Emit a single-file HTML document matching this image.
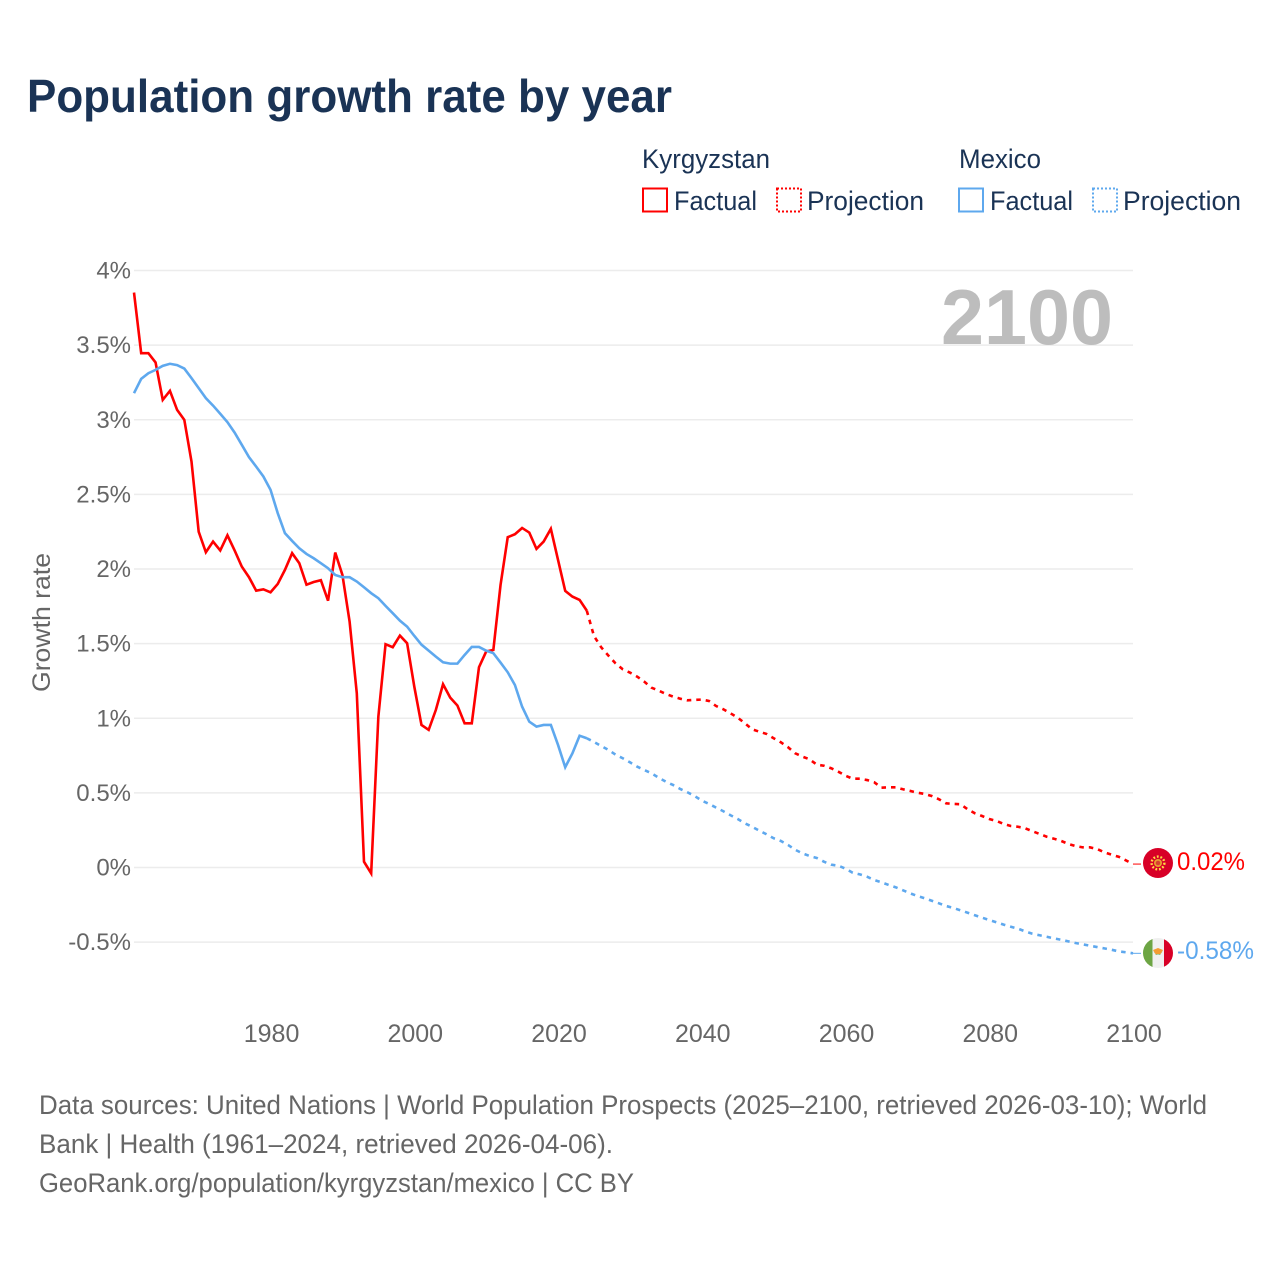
<!DOCTYPE html>
<html lang="en">
<head>
<meta charset="utf-8">
<title>Population growth rate by year</title>
<style>
html,body{margin:0;padding:0;background:#fff;}
svg{display:block;font-family:"Liberation Sans",sans-serif;}
</style>
</head>
<body>
<svg id="chart" xmlns="http://www.w3.org/2000/svg" width="1280" height="1280" viewBox="0 0 1280 1280">
  <rect x="0" y="0" width="1280" height="1280" fill="#fff"/>
  <text x="27" y="112" font-size="46" font-weight="700" fill="#1a3355" textLength="645" lengthAdjust="spacingAndGlyphs">Population growth rate by year</text>

  <g font-size="27" fill="#1a3355">
    <text x="642" y="168" textLength="128" lengthAdjust="spacingAndGlyphs">Kyrgyzstan</text>
    <text x="959" y="168" textLength="82" lengthAdjust="spacingAndGlyphs">Mexico</text>
    <rect x="643" y="188.5" width="24" height="23" fill="none" stroke="#ff0000" stroke-width="2"/>
    <text x="674" y="210" textLength="83" lengthAdjust="spacingAndGlyphs">Factual</text>
    <rect x="777" y="188.5" width="24" height="23" fill="none" stroke="#ff0000" stroke-width="2" stroke-dasharray="2 2"/>
    <text x="807" y="210" textLength="117" lengthAdjust="spacingAndGlyphs">Projection</text>
    <rect x="959" y="188.5" width="24" height="23" fill="none" stroke="#5ea8ee" stroke-width="2"/>
    <text x="990" y="210" textLength="83" lengthAdjust="spacingAndGlyphs">Factual</text>
    <rect x="1093" y="188.5" width="24" height="23" fill="none" stroke="#5ea8ee" stroke-width="2" stroke-dasharray="2 2"/>
    <text x="1123" y="210" textLength="118" lengthAdjust="spacingAndGlyphs">Projection</text>
  </g>

  <g id="grid"></g>
  <g id="yticks" font-size="24" fill="#666" text-anchor="end"></g>
  <g id="xticks" font-size="25" fill="#666" text-anchor="middle"></g>

  <text transform="translate(50,622.5) rotate(-90)" font-size="25" fill="#666" text-anchor="middle" textLength="139" lengthAdjust="spacingAndGlyphs">Growth rate</text>
  <text x="941" y="344" font-size="78" font-weight="700" fill="#bdbdbd" textLength="172" lengthAdjust="spacingAndGlyphs">2100</text>

  <g id="series"></g>

  <g>
    <circle cx="1158" cy="863" r="15" fill="#d80027"/>
    <circle cx="1158" cy="863" r="6.4" fill="none" stroke="#ffda44" stroke-width="2.4" stroke-dasharray="1.8 1.8"/>
    <circle cx="1158" cy="863" r="4" fill="#e8a030"/>
    <circle cx="1158" cy="863" r="2.3" fill="#d84030"/>
  </g>
  <g>
    <clipPath id="mexico-clip"><circle cx="1158" cy="953" r="15"/></clipPath>
    <g clip-path="url(#mexico-clip)">
      <rect x="1143" y="938" width="30" height="30" fill="#f0f0f0"/>
      <rect x="1143" y="938" width="9.5" height="30" fill="#6da544"/>
      <rect x="1164" y="938" width="9.5" height="30" fill="#d80027"/>
    </g>
    <path d="M1153.5 951 A4.6 4.6 0 0 0 1162.5 951 L1160 955 L1156 955 Z" fill="#6da544"/>
    <path d="M1153 950 L1158 948 L1163 950 L1160.5 954 L1155.5 954 Z" fill="#f39c32"/>
  </g>

  <text x="1177" y="870" font-size="25" fill="#ff0000" textLength="68" lengthAdjust="spacingAndGlyphs">0.02%</text>
  <text x="1177" y="959" font-size="25" fill="#5ea8ee" textLength="77" lengthAdjust="spacingAndGlyphs">-0.58%</text>

  <g font-size="27" fill="#666">
    <text x="39" y="1114" textLength="1168" lengthAdjust="spacingAndGlyphs">Data sources: United Nations | World Population Prospects (2025–2100, retrieved 2026-03-10); World</text>
    <text x="39" y="1153" textLength="574" lengthAdjust="spacingAndGlyphs">Bank | Health (1961–2024, retrieved 2026-04-06).</text>
    <text x="39" y="1192" textLength="595" lengthAdjust="spacingAndGlyphs">GeoRank.org/population/kyrgyzstan/mexico | CC BY</text>
  </g>
</svg>

<script>
const factualStartYear = 1961;
const projectionStartYear = 2024;

const yTickValues = [4, 3.5, 3, 2.5, 2, 1.5, 1, 0.5, 0, -0.5];
const yTickLabels = ["4%", "3.5%", "3%", "2.5%", "2%", "1.5%", "1%", "0.5%", "0%", "-0.5%"];
const xTickYears = [1980, 2000, 2020, 2040, 2060, 2080, 2100];
const xTickLabels = ["1980", "2000", "2020", "2040", "2060", "2080", "2100"];

const kyrgyzstanFactual = [
  3.852, 3.446, 3.446, 3.384, 3.133, 3.194, 3.066, 2.999, 2.72, 2.25,
  2.112, 2.184, 2.124, 2.226, 2.124, 2.016, 1.945, 1.855, 1.864, 1.844,
  1.90, 1.994, 2.106, 2.039, 1.895, 1.913, 1.925, 1.788, 2.11, 1.96,
  1.647, 1.167, 0.039, -0.039, 1.011, 1.496, 1.476, 1.554, 1.503, 1.212,
  0.955, 0.922, 1.056, 1.228, 1.138, 1.085, 0.966, 0.966, 1.342, 1.447,
  1.458, 1.893, 2.213, 2.233, 2.275, 2.244, 2.135, 2.184, 2.269, 2.061,
  1.853, 1.815, 1.793, 1.721
];
const kyrgyzstanProjection = [
  1.721, 1.551, 1.476, 1.42, 1.368, 1.328, 1.306, 1.279, 1.245, 1.205,
  1.185, 1.163, 1.145, 1.131, 1.12, 1.123, 1.125, 1.116, 1.082, 1.06,
  1.033, 1.004, 0.966, 0.926, 0.91, 0.895, 0.866, 0.839, 0.806, 0.765,
  0.743, 0.725, 0.689, 0.682, 0.665, 0.642, 0.615, 0.595, 0.595, 0.586,
  0.571, 0.535, 0.537, 0.537, 0.524, 0.513, 0.501, 0.493, 0.479, 0.457,
  0.43, 0.426, 0.424, 0.39, 0.363, 0.345, 0.325, 0.312, 0.292, 0.278,
  0.273, 0.263, 0.243, 0.225, 0.206, 0.193, 0.178, 0.158, 0.144, 0.135,
  0.135, 0.124, 0.102, 0.086, 0.072, 0.048, 0.023
];
const mexicoFactual = [
  3.178, 3.274, 3.312, 3.334, 3.361, 3.375, 3.366, 3.343, 3.279, 3.212,
  3.145, 3.095, 3.04, 2.984, 2.914, 2.832, 2.749, 2.686, 2.62, 2.53,
  2.374, 2.24, 2.188, 2.139, 2.101, 2.072, 2.039, 2.005, 1.96, 1.945,
  1.945, 1.916, 1.878, 1.838, 1.804, 1.753, 1.704, 1.654, 1.614, 1.552,
  1.493, 1.453, 1.413, 1.375, 1.366, 1.366, 1.424, 1.478, 1.478, 1.453,
  1.436, 1.373, 1.308, 1.223, 1.078, 0.977, 0.944, 0.955, 0.955, 0.821,
  0.672, 0.765, 0.883, 0.866
];
const mexicoProjection = [
  0.866, 0.841, 0.814, 0.788, 0.756, 0.732, 0.705, 0.676, 0.653, 0.631,
  0.602, 0.575, 0.553, 0.526, 0.504, 0.479, 0.448, 0.426, 0.401, 0.377,
  0.35, 0.325, 0.296, 0.273, 0.247, 0.223, 0.196, 0.178, 0.151, 0.119,
  0.095, 0.077, 0.064, 0.039, 0.019, 0.012, -0.008, -0.035, -0.046, -0.062,
  -0.084, -0.099, -0.117, -0.133, -0.153, -0.173, -0.191, -0.206, -0.223, -0.24,
  -0.258, -0.271, -0.287, -0.303, -0.32, -0.336, -0.352, -0.367, -0.383, -0.397,
  -0.41, -0.428, -0.444, -0.454, -0.464, -0.475, -0.484, -0.495, -0.506, -0.515,
  -0.524, -0.533, -0.542, -0.551, -0.562, -0.568, -0.575
];

const SVG_NS = "http://www.w3.org/2000/svg";
const RED = "#ff0000";
const BLUE = "#5ea8ee";

function xScale(year) {
  return 134 + (year - 1961) * (1133 - 134) / (2100 - 1961);
}
function yScale(value) {
  return 867.5 - value * 149.25;
}
function linePath(values, startYear) {
  return values.map(function (v, i) {
    return (i ? "L" : "M") + xScale(startYear + i).toFixed(2) + " " + yScale(v).toFixed(2);
  }).join(" ");
}
function drawLine(parent, d, color, dash) {
  const p = document.createElementNS(SVG_NS, "path");
  p.setAttribute("d", d);
  p.setAttribute("fill", "none");
  p.setAttribute("stroke", color);
  p.setAttribute("stroke-width", "2.6");
  p.setAttribute("stroke-linejoin", "miter");
  if (dash) p.setAttribute("stroke-dasharray", dash);
  parent.appendChild(p);
  return p;
}

const gridGroup = document.getElementById("grid");
const yTickGroup = document.getElementById("yticks");
const xTickGroup = document.getElementById("xticks");
const seriesGroup = document.getElementById("series");

yTickValues.forEach(function (v, i) {
  const line = document.createElementNS(SVG_NS, "line");
  
  
  line.setAttribute("x1", 134);
  line.setAttribute("x2", 1133);
  line.setAttribute("y1", yScale(v));
  line.setAttribute("y2", yScale(v));
  line.setAttribute("stroke", "#ececec");
  line.setAttribute("stroke-width", "1.6");
  gridGroup.appendChild(line);

  const label = document.createElementNS(SVG_NS, "text");
  
  
  label.setAttribute("x", 131);
  label.setAttribute("y", yScale(v) + 8);
  label.textContent = yTickLabels[i];
  yTickGroup.appendChild(label);
});

xTickYears.forEach(function (year, i) {
  const label = document.createElementNS(SVG_NS, "text");
  
  
  label.setAttribute("x", xScale(year) + 1);
  label.setAttribute("y", 1042);
  label.textContent = xTickLabels[i];
  xTickGroup.appendChild(label);
});

const kgFactualLine = drawLine(seriesGroup, linePath(kyrgyzstanFactual, factualStartYear), RED);



const mxFactualLine = drawLine(seriesGroup, linePath(mexicoFactual, factualStartYear), BLUE);



const kgProjectionLine = drawLine(seriesGroup, linePath(kyrgyzstanProjection, projectionStartYear), RED, "4.5 5");



const mxProjectionLine = drawLine(seriesGroup, linePath(mexicoProjection, projectionStartYear), BLUE, "4.5 5");



const kgEndY = yScale(kyrgyzstanProjection[kyrgyzstanProjection.length - 1]);
const kgLeader = drawLine(seriesGroup, "M1133 " + kgEndY.toFixed(2) + " L1141 " + kgEndY.toFixed(2), RED);


kgLeader.setAttribute("stroke-width", "1");

const mxEndY = yScale(mexicoProjection[mexicoProjection.length - 1]);
const mxLeader = drawLine(seriesGroup, "M1133 " + mxEndY.toFixed(2) + " L1141 " + mxEndY.toFixed(2), BLUE);


mxLeader.setAttribute("stroke-width", "1");
</script>
</body>
</html>
